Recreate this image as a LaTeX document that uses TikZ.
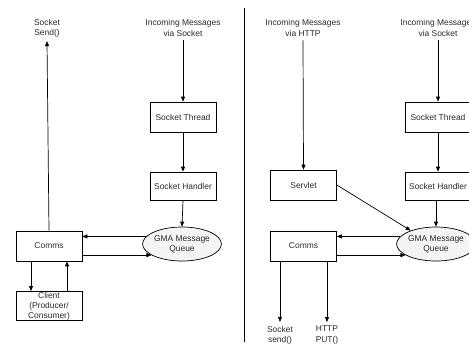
\documentclass[tikz,border=0pt]{standalone}
\usepackage{fontspec}
\setmainfont{Liberation Sans}
\usepackage{tikz}
\usetikzlibrary{positioning,arrows.meta,shapes.geometric,calc}
\definecolor{ctexto}{HTML}{2A2A2A}
\definecolor{cgrisc}{HTML}{F4F4F4}
\tikzset{
  bloque/.style={rectangle, draw=black, fill=white, line width=0.6pt,
    minimum width=1.98cm, minimum height=0.9cm, align=center, text=ctexto,
    font=\fontsize{7.2}{8.6}\selectfont},
  cola/.style={ellipse, draw=black, fill=cgrisc, line width=0.6pt, inner sep=0pt,
    minimum width=2.1cm, minimum height=1.02cm, align=center, text=ctexto,
    font=\fontsize{7.2}{8.6}\selectfont},
  flecha/.style={-{Triangle[length=1.5mm,width=1.2mm]}, line width=0.6pt, draw=black},
  rotulo/.style={align=center, text=ctexto, font=\fontsize{7.2}{8.6}\selectfont},
}

\begin{document}
\begin{tikzpicture}[x=0.03cm, y=-0.03cm]
  \useasboundingbox (0,0) rectangle (469,350);

  % lado izquierdo: socket
  \node[rotulo] (sendL) at (47,28) {Socket\\Send()};
  \node[rotulo] (inL) at (183,28) {Incoming Messages\\via Socket};
  \node[bloque] (threadL) at (183,117) {Socket Thread};
  \node[bloque, minimum height=0.84cm] (handlerL) at (183,186) {Socket Handler};
  \node[cola] (queueL) at (182,244) {GMA Message\\Queue};
  \node[bloque] (commsL) at (49,246) {Comms};
  \node[bloque, minimum height=0.87cm, inner ysep=0.5pt] (client) at (49,306) {Client\\(Producer/\\Consumer)};

  \draw[flecha] (commsL.north) -- (sendL.south);
  \draw[flecha] (inL.south) -- (threadL.north);
  \draw[flecha] (threadL) -- (handlerL);
  \draw[flecha] (handlerL.south) -- (queueL.north);
  \draw[flecha] (queueL.168) -- (queueL.168 -| commsL.east);
  \draw[flecha] (queueL.200 -| commsL.east) -- (queueL.200);
  \draw[flecha] ([xshift=-0.54cm]commsL.south) -- ([xshift=-0.54cm]client.north);
  \draw[flecha] ([xshift=0.54cm]client.north) -- ([xshift=0.54cm]commsL.south);

  % separador
  \coordinate (sepA) at (244,8);
  \coordinate (sepB) at (244,342);
  \draw[line width=0.6pt] (sepA) -- (sepB);

  % lado derecho: HTTP y socket
  \node[rotulo] (inH) at (303,28) {Incoming Messages\\via HTTP};
  \node[bloque] (servlet) at (303.5,185) {Servlet};
  \node[rotulo] (inR) at (438,28) {Incoming Messages\\via Socket};
  \node[bloque] (threadR) at (438,117) {Socket Thread};
  \node[bloque, minimum height=0.84cm] (handlerR) at (438,186) {Socket Handler};
  \node[cola] (queueR) at (436,244) {GMA Message\\Queue};
  \node[bloque] (commsR) at (303.5,246) {Comms};
  \node[rotulo] (sendR) at (280,335) {Socket\\send()};
  \node[rotulo] (putR) at (327,335) {HTTP\\PUT()};

  \draw[flecha] (inH.south) -- (servlet.north);
  \draw[flecha] (inR.south) -- (threadR.north);
  \draw[flecha] (threadR) -- (handlerR);
  \draw[flecha] (handlerR.south -| queueR.north) -- (queueR.north);
  \draw[flecha] (servlet.east) -- (queueR.152);
  \draw[flecha] (queueR.168) -- (queueR.168 -| commsR.east);
  \draw[flecha] (queueR.200 -| commsR.east) -- (queueR.200);
  \draw[flecha] (commsR.south -| sendR.north) -- (sendR.north);
  \draw[flecha] (commsR.south -| putR.north) -- (putR.north);
\end{tikzpicture}
\end{document}
